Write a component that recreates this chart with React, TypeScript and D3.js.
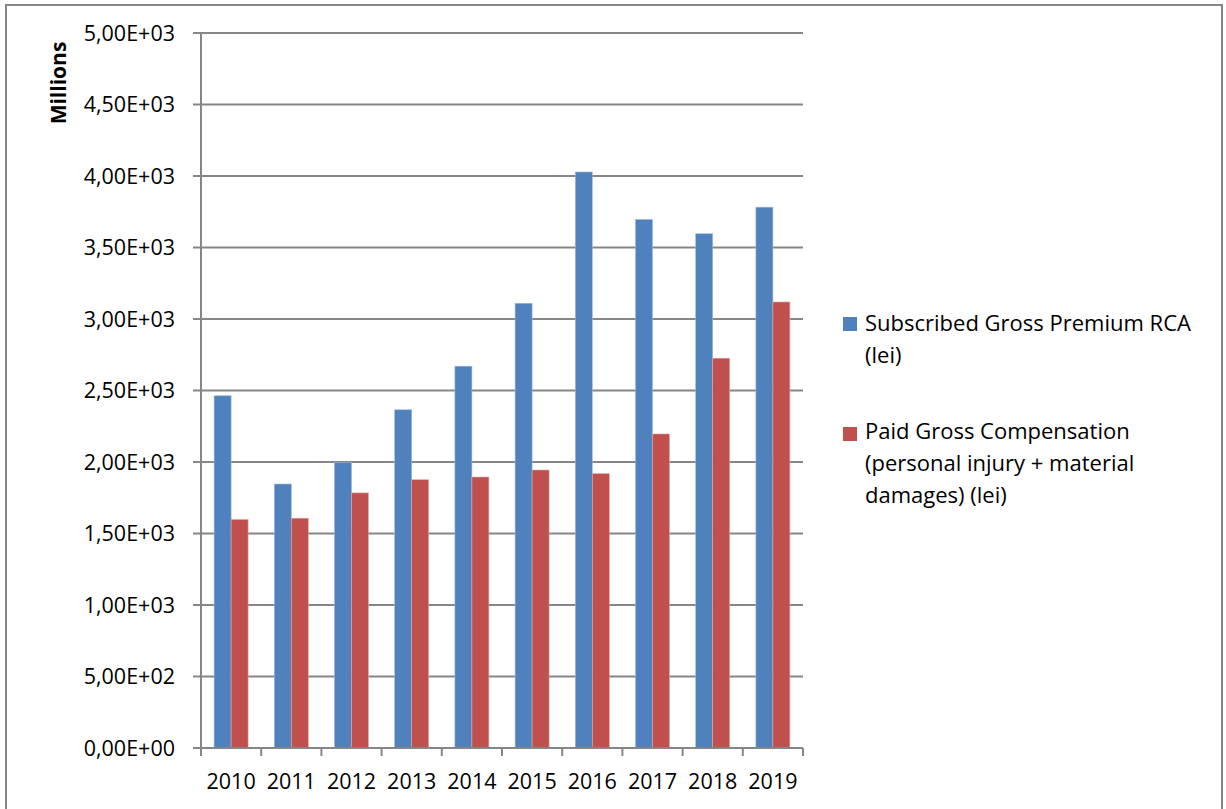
import React from "react";
import * as d3 from "d3";

const years = ["2010", "2011", "2012", "2013", "2014", "2015", "2016", "2017", "2018", "2019"];
const premium = [2463, 1846, 1997, 2365, 2670, 3110, 4028, 3696, 3596, 3782];
const compensation = [1598, 1607, 1784, 1876, 1895, 1944, 1919, 2196, 2726, 3119];
const yTicks = [0, 500, 1000, 1500, 2000, 2500, 3000, 3500, 4000, 4500, 5000];
const yTickLabels = ["0,00E+00", "5,00E+02", "1,00E+03", "1,50E+03", "2,00E+03", "2,50E+03", "3,00E+03", "3,50E+03", "4,00E+03", "4,50E+03", "5,00E+03"];
const seriesNames = ["Subscribed Gross Premium RCA", "Paid Gross Compensation"];
const legendLines1 = ["Subscribed Gross Premium RCA", "(lei)"];
const legendLines2 = ["Paid Gross Compensation", "(personal injury + material", "damages) (lei)"];
const colors = ["#4F81BD", "#C0504D"];

const FONT = "'Open Sans', sans-serif";
const GRID = "#868686";

export default function App() {
  const W = 1226, H = 809;
  const x0 = 201, x1 = 803, yTop = 33, yBot = 748;
  const x = d3.scaleBand<string>().domain(years).range([x0, x1]).paddingInner(0).paddingOuter(0);
  const y = d3.scaleLinear().domain([0, 5000]).range([yBot, yTop]);
  const barW = 17;
  const series = [premium, compensation];

  return (
    <div style={{ position: "fixed", left: 0, top: 0, background: "#fff" }}>
      <svg width={W} height={H} style={{ display: "block" }}>
        <rect x={0} y={0} width={W} height={H} fill="#fff" />
        <rect x={6} y={5} width={1216} height={830} fill="none" stroke={GRID} strokeWidth={2} />
        {yTicks.map((t, i) => (
          <g key={t}>
            {t > 0 && <line x1={x0} x2={x1} y1={y(t)} y2={y(t)} stroke={GRID} strokeWidth={2} />}
            <line x1={x0 - 8} x2={x0} y1={y(t)} y2={y(t)} stroke={GRID} strokeWidth={2} />
            <text x={175} y={y(t)} dy="0.36em" textAnchor="end" fontFamily={FONT} fontSize={21.5} fill="#000">
              {yTickLabels[i]}
            </text>
          </g>
        ))}
        {series.map((s, si) =>
          s.map((v, i) => {
            const cx = (x(years[i]) as number) + x.bandwidth() / 2;
            const bx = cx - barW + si * barW;
            return (
              <rect key={`${si}-${i}`} x={bx} y={y(v)} width={barW} height={yBot - y(v)}
                fill={colors[si]} stroke={si === 0 ? "#9db8dc" : "#e0a8a6"} strokeWidth={0.6} />
            );
          })
        )}
        <line x1={x0} x2={x0} y1={yTop} y2={yBot} stroke={GRID} strokeWidth={2} />
        <line x1={x0 - 8} x2={x1} y1={yBot} y2={yBot} stroke={GRID} strokeWidth={2} />
        {years.map((yr) => (
          <line key={"t" + yr} x1={x(yr)} x2={x(yr)} y1={yBot} y2={yBot + 8} stroke={GRID} strokeWidth={2} />
        ))}
        <line x1={x1} x2={x1} y1={yBot} y2={yBot + 8} stroke={GRID} strokeWidth={2} />
        {years.map((yr) => (
          <text key={"l" + yr} x={(x(yr) as number) + x.bandwidth() / 2} y={789} textAnchor="middle"
            fontFamily={FONT} fontSize={21.5} fill="#000">{yr}</text>
        ))}
        <text transform={`translate(66,83) rotate(-90)`} textAnchor="middle" fontFamily={FONT}
          fontWeight="bold" fontSize={21} fill="#000">Millions</text>
        <g aria-label={seriesNames[0]}>
          <rect x={843} y={317} width={14} height={14} fill={colors[0]} />
          {legendLines1.map((l, i) => (
            <text key={l} x={865} y={331 + i * 32} fontFamily={FONT} fontSize={22} fill="#000">{l}</text>
          ))}
        </g>
        <g aria-label={seriesNames[1]}>
          <rect x={843} y={427} width={14} height={14} fill={colors[1]} />
          {legendLines2.map((l, i) => (
            <text key={l} x={865} y={439 + i * 32} fontFamily={FONT} fontSize={22} fill="#000">{l}</text>
          ))}
        </g>
      </svg>
    </div>
  );
}
